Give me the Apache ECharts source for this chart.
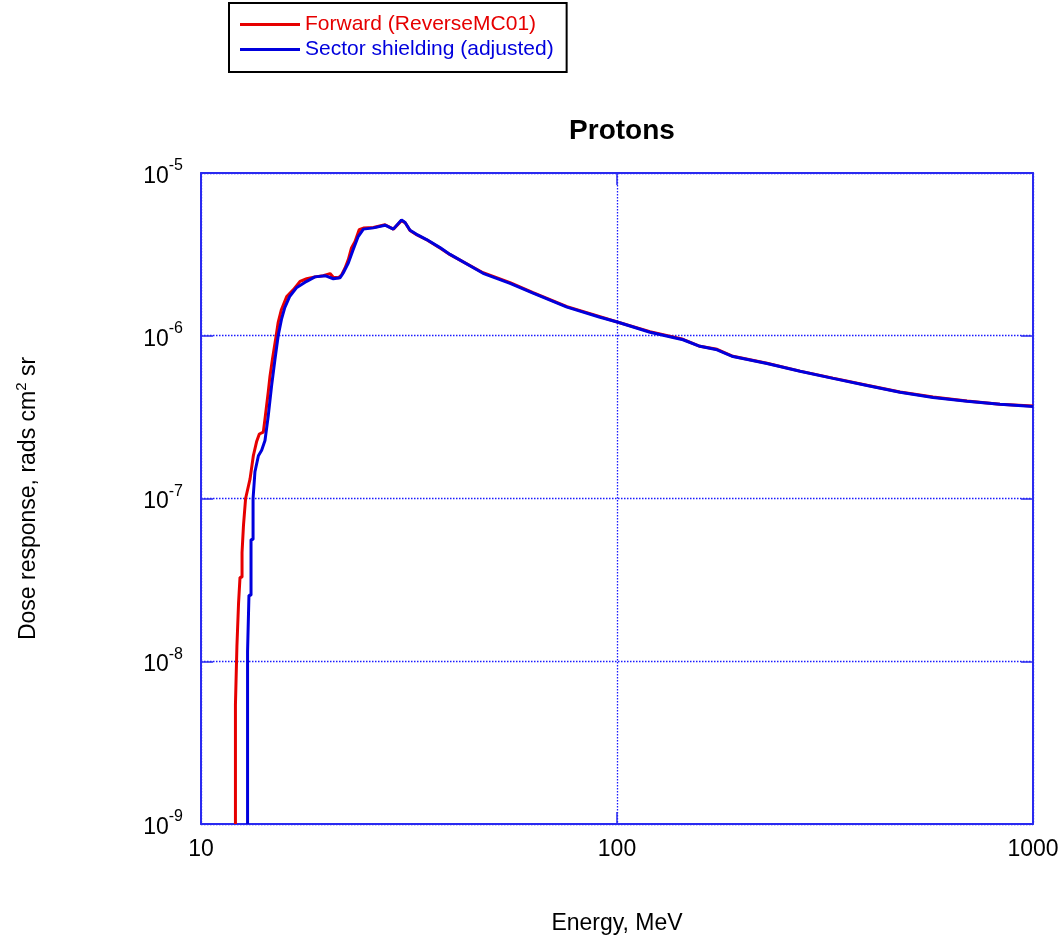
<!DOCTYPE html>
<html>
<head>
<meta charset="utf-8">
<script src="https://cdn.jsdelivr.net/npm/echarts@6/dist/echarts.min.js"></script>
<style>
html,body{margin:0;padding:0;background:#fff;}
#chart{width:1063px;height:940px;}
</style>
</head>
<body>
<div id="chart"></div>
<script>
// Energy (MeV) / dose response for each series
var forwardE = [12.10,12.10,12.20,12.20,12.31,12.31,12.41,12.41,12.55,12.55,12.65,12.65,12.76,12.80,13.12,13.36,13.60,13.81,14.12,14.25,14.51,14.65,14.85,15.15,15.33,15.61,16.07,16.68,17.30,17.95,18.79,19.67,20.43,20.80,21.39,21.79,22.20,22.60,23.00,23.46,24.00,24.57,25.97,27.69,29.00,30.33,30.94,31.80,32.97,34.86,37.54,39.69,47.64,55.32,62.84,75.83,91.02,100.6,120.0,144.1,158.3,174.0,190.0,229.4,275.4,330.5,399,479,575,694,833,1000];
var forwardV = [1e-9,5.4e-9,5.4e-9,1.24e-8,1.24e-8,2.27e-8,2.27e-8,3.28e-8,3.28e-8,4.66e-8,4.66e-8,6.82e-8,6.82e-8,1.0e-7,1.32e-7,1.83e-7,2.23e-7,2.49e-7,2.56e-7,3.08e-7,4.51e-7,5.64e-7,7.17e-7,9.91e-7,1.21e-6,1.45e-6,1.74e-6,1.92e-6,2.16e-6,2.24e-6,2.30e-6,2.34e-6,2.41e-6,2.29e-6,2.27e-6,2.37e-6,2.61e-6,2.94e-6,3.46e-6,3.79e-6,4.48e-6,4.59e-6,4.63e-6,4.81e-6,4.52e-6,5.10e-6,4.96e-6,4.43e-6,4.18e-6,3.89e-6,3.46e-6,3.15e-6,2.44e-6,2.12e-6,1.84e-6,1.51e-6,1.31e-6,1.21e-6,1.06e-6,9.51e-7,8.61e-7,8.26e-7,7.48e-7,6.78e-7,6.06e-7,5.49e-7,4.97e-7,4.51e-7,4.20e-7,3.97e-7,3.80e-7,3.70e-7];
var sectorE = [12.94,12.94,13.04,13.04,13.19,13.19,13.34,13.34,13.48,13.74,13.99,14.25,14.51,14.78,15.06,15.33,15.61,15.90,16.35,16.96,17.95,18.79,19.87,20.80,21.60,21.97,22.60,23.20,23.87,24.57,25.97,27.69,29.00,30.33,30.94,31.80,32.97,34.86,37.54,39.69,47.64,55.32,62.84,75.83,91.02,100.6,120.0,144.1,158.3,174.0,190.0,229.4,275.4,330.5,399,479,575,694,833,1000];
var sectorV = [1e-9,1.15e-8,1.15e-8,2.54e-8,2.54e-8,5.60e-8,5.60e-8,1.0e-7,1.46e-7,1.83e-7,1.98e-7,2.27e-7,3.22e-7,4.92e-7,7.17e-7,1.0e-6,1.26e-6,1.49e-6,1.75e-6,1.97e-6,2.16e-6,2.30e-6,2.34e-6,2.24e-6,2.27e-6,2.43e-6,2.80e-6,3.37e-6,4.07e-6,4.52e-6,4.60e-6,4.78e-6,4.52e-6,5.15e-6,4.96e-6,4.45e-6,4.20e-6,3.90e-6,3.48e-6,3.16e-6,2.42e-6,2.10e-6,1.83e-6,1.50e-6,1.30e-6,1.21e-6,1.05e-6,9.45e-7,8.61e-7,8.20e-7,7.45e-7,6.76e-7,6.05e-7,5.47e-7,4.95e-7,4.50e-7,4.18e-7,3.96e-7,3.79e-7,3.68e-7];
var seriesNames = ['Forward (ReverseMC01)', 'Sector shielding (adjusted)'];
var xRange = [10, 1000];
var yRange = [1e-9, 1e-5];

function pairs(xs, ys){ return xs.map(function(x,i){ return [x, ys[i]]; }); }

var FONT = '"Liberation Sans", Arial, sans-serif';
var FRAME = '#2a2af0';
var GRIDC = '#1a1aff';
var RED = '#e60000';
var BLUE = '#0000dd';

var chart = echarts.init(document.getElementById('chart'), null, {renderer:'canvas'});
var tickStyle = {show:true, inside:true, length:12, lineStyle:{color:FRAME, width:1.5}};
var axisLineStyle = {show:true, lineStyle:{color:FRAME, width:2}};
var option = {
  backgroundColor:'#fff',
  animation:false,
  title:{
    text:'Protons', left:617, top:112, textAlign:'center',
    textStyle:{fontFamily:FONT, fontSize:28, fontWeight:'bold', color:'#000'}
  },
  legend:{
    orient:'vertical', left:229, top:3,
    padding:[11,13,12,11], itemGap:4,
    itemWidth:60, itemHeight:3, icon:'rect',
    borderColor:'#000', borderWidth:2, backgroundColor:'#fff',
    textStyle:{fontFamily:FONT, fontSize:21},
    data:[
      {name:seriesNames[0], textStyle:{color:RED}},
      {name:seriesNames[1], textStyle:{color:BLUE}}
    ]
  },
  grid:{left:201, top:173, right:30, bottom:114, containLabel:false},
  xAxis:[{
    type:'log', logBase:10, min:xRange[0], max:xRange[1], position:'bottom',
    axisLine:axisLineStyle, axisTick:tickStyle, minorTick:{show:false},
    axisLabel:{fontFamily:FONT, fontSize:23, color:'#000', margin:14,
      formatter:function(v){ return String(Math.round(v)); }},
    splitLine:{show:true, lineStyle:{color:GRIDC, width:1.3, type:[1.5,1.5]}},
    name:'Energy, MeV', nameLocation:'middle', nameGap:88,
    nameTextStyle:{fontFamily:FONT, fontSize:23, color:'#000'}
  },{
    type:'log', logBase:10, min:xRange[0], max:xRange[1], position:'top',
    axisLine:axisLineStyle, axisTick:tickStyle, axisLabel:{show:false}, splitLine:{show:false}
  }],
  yAxis:[{
    type:'log', logBase:10, min:yRange[0], max:yRange[1], position:'left',
    axisLine:axisLineStyle, axisTick:tickStyle, minorTick:{show:false},
    axisLabel:{margin:18, color:'#000',
      formatter:function(v){ var e = Math.round(Math.log10(v)); return '{b|10}{s|' + e + '}'; },
      rich:{
        b:{fontFamily:FONT, fontSize:23, color:'#000', lineHeight:30, verticalAlign:'bottom'},
        s:{fontFamily:FONT, fontSize:16, color:'#000', lineHeight:30, verticalAlign:'top'}
      }},
    splitLine:{show:true, lineStyle:{color:GRIDC, width:1.3, type:[1.5,1.5]}},
    name:'Dose response, rads cm{s|2} sr', nameLocation:'middle', nameGap:157, nameRotate:90,
    nameTextStyle:{fontFamily:FONT, fontSize:23, color:'#000',
      rich:{s:{fontFamily:FONT, fontSize:15, color:'#000', verticalAlign:'top', lineHeight:30}}}
  },{
    type:'log', logBase:10, min:yRange[0], max:yRange[1], position:'right',
    axisLine:axisLineStyle, axisTick:tickStyle, axisLabel:{show:false}, splitLine:{show:false}
  }],
  series:[
    {name:seriesNames[0], type:'line', data:pairs(forwardE, forwardV), showSymbol:false, symbol:'none',
     lineStyle:{color:RED, width:3}, itemStyle:{color:RED}, z:2},
    {name:seriesNames[1], type:'line', data:pairs(sectorE, sectorV), showSymbol:false, symbol:'none',
     lineStyle:{color:BLUE, width:3}, itemStyle:{color:BLUE}, z:3}
  ]
};
chart.setOption(option);
</script>
</body>
</html>
